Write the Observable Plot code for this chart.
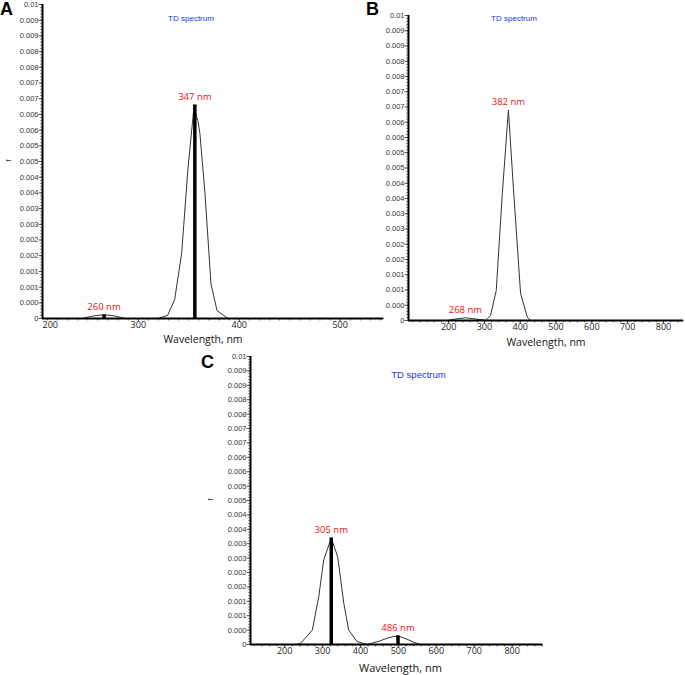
<!DOCTYPE html>
<html><head><meta charset="utf-8">
<script src="https://cdn.jsdelivr.net/npm/d3@7"></script>
<script src="https://cdn.jsdelivr.net/npm/@observablehq/plot@0.6"></script>
<style>
body{margin:0;background:#fff;}
#wrap{position:relative;width:685px;height:675px;overflow:hidden;background:#fff;}
.letter{position:absolute;font:bold 18px "Liberation Sans",Arial,sans-serif;line-height:18px;color:#000;}
</style></head><body><div id="wrap"></div>
<script>
// y axis ticks and their (truncated) labels, shared by the three panels
const yTicks = [0,0.0005,0.001,0.0015,0.002,0.0025,0.003,0.0035,0.004,0.0045,0.005,0.0055,0.006,0.0065,0.007,0.0075,0.008,0.0085,0.009,0.0095,0.01];
const yTickLabels = ["0","0.000","0.001","0.001","0.002","0.002","0.003","0.003","0.004","0.004","0.005","0.005","0.006","0.006","0.007","0.007","0.008","0.008","0.009","0.009","0.01"];

// Panel A
const aCurveNm = [205, 244, 255, 266, 277, 287, 319, 329, 336, 343, 349, 355, 359, 361, 366, 372, 378, 389, 543];
const aCurveF  = [0, 0, 0.00008, 0.00012, 0.00008, 0, 0, 0.0001, 0.0006, 0.0021, 0.0047, 0.0067, 0.0063, 0.0059, 0.0040, 0.0011, 0.00025, 0, 0];
const aPeakNm = [266, 356];
const aPeakF  = [0.00012, 0.0068];
const aPeakLabels = ["260 nm", "347 nm"];
const aXTicks = [200, 300, 400, 500];
const aXTickLabels = ["200", "300", "400", "500"];

// Panel B
const bCurveNm = [88, 196, 220, 247, 275, 303, 308, 317, 333, 350, 367, 382, 401, 420, 429, 855];
const bCurveF  = [0, 0, 0.00005, 0.00009, 0.00005, 0.00001, 0.00006, 0.00016, 0.00098, 0.00416, 0.0069, 0.00416, 0.00089, 0.0001, 0, 0];
const bPeakNm = [247, 367];
const bPeakF  = [0.00009, 0.0069];
const bPeakLabels = ["268 nm", "382 nm"];
const bXTicks = [200, 300, 400, 500, 600, 700, 800];
const bXTickLabels = ["200", "300", "400", "500", "600", "700", "800"];

// Panel C
const cCurveNm = [110, 230, 242, 273, 290, 303, 323, 340, 356, 369, 391, 418, 450, 475, 498, 520, 540, 558, 880];
const cCurveF  = [0, 0, 0.00004, 0.0005, 0.00166, 0.00293, 0.0037, 0.00304, 0.00143, 0.0005, 0.0001, 0, 0.00012, 0.00024, 0.0003, 0.0002, 0.00008, 0, 0];
const cPeakNm = [323, 499];
const cPeakF  = [0.0037, 0.0003];
const cPeakLabels = ["305 nm", "486 nm"];
const cXTicks = [200, 300, 400, 500, 600, 700, 800];
const cXTickLabels = ["200", "300", "400", "500", "600", "700", "800"];

const title = "TD spectrum";
const xLabel = "Wavelength, nm";
const yLabel = "f";

const wrap = document.getElementById("wrap");
const SANS = "Liberation Sans, Arial, sans-serif";
const OPEN = "Open Sans, Noto Sans, sans-serif";
const minorY = d3.range(0, 0.01 + 1e-9, 0.0001);

function panel(cfg) {
  const curve = cfg.curveNm.map((x, i) => ({x, f: cfg.curveF[i]}));
  const peaks = cfg.peakNm.map((x, i) => ({x, f: cfg.peakF[i], label: cfg.peakLabels[i]}));
  const yt = yTicks.map((v, i) => ({v, label: yTickLabels[i]}));
  const [x0, x1] = cfg.domain;
  const xt = cfg.xTicks.map((t, i) => ({t, label: cfg.xTickLabels[i]}));
  const inTicks = xt.filter(d => d.t >= x0 && d.t <= x1);
  const outTicks = xt.filter(d => d.t < x0);
  const minorX = d3.range(Math.ceil(x0 / cfg.minorStep) * cfg.minorStep, x1 + 1e-9, cfg.minorStep);
  const fw = cfg.width - cfg.ml - cfg.mr;
  const fh = cfg.height - cfg.mt - cfg.mb;
  const marks = [
    Plot.ruleY(minorY, {insetLeft: -2, insetRight: fw, stroke: "#444", strokeWidth: 0.6}),
    Plot.ruleY(yTicks, {insetLeft: -3.5, insetRight: fw, stroke: "#333", strokeWidth: 0.8}),
    Plot.text(yt, {y: "v", text: "label", frameAnchor: "left", textAnchor: "end", dx: -4, fontSize: 7.5, fontFamily: SANS, fill: "#333"}),
    Plot.ruleX(minorX, {insetTop: fh, insetBottom: -2.5, stroke: "#444", strokeWidth: 0.8}),
    Plot.ruleX(inTicks.map(d => d.t), {insetTop: fh, insetBottom: -3, stroke: "#333", strokeWidth: 0.8}),
    Plot.text(inTicks, {x: "t", text: "label", frameAnchor: "bottom", lineAnchor: "top", dy: 3, fontSize: 9, fontFamily: OPEN, fill: "#222"}),
    Plot.text(outTicks, {text: "label", frameAnchor: "bottom-left", textAnchor: "start", lineAnchor: "top", dy: 3, fontSize: 9, fontFamily: OPEN, fill: "#222"}),
    Plot.line(curve, {x: "x", y: "f", stroke: "#333", strokeWidth: 1}),
    Plot.ruleY([0], {stroke: "#000", strokeWidth: 2}),
    Plot.ruleX([x0], {stroke: "#000", strokeWidth: 2}),
    Plot.text([title], {frameAnchor: "top", dx: cfg.titleDx, dy: cfg.titleDy, fill: "#2233dd", fontSize: cfg.titleSize, fontFamily: SANS}),
    Plot.text([xLabel], {frameAnchor: "bottom", dx: cfg.xLabelDx, dy: cfg.xLabelDy, fill: "#111", fontSize: cfg.xLabelSize, fontFamily: OPEN}),
    Plot.text(peaks, {x: "x", y: "f", text: "label", lineAnchor: "bottom", dy: -5, fill: "#ee1111", fontSize: 9.5, fontFamily: OPEN})
  ];
  if (cfg.bars) marks.push(Plot.ruleX(peaks, {x: "x", y1: 0, y2: "f", stroke: "#000", strokeWidth: cfg.barWidth}));
  if (cfg.showF) marks.push(Plot.text([yLabel], {frameAnchor: "left", dx: cfg.fDx, rotate: -90, fontSize: 7, fontFamily: SANS, fill: "#333"}));
  const svg = Plot.plot({
    width: cfg.width, height: cfg.height,
    marginLeft: cfg.ml, marginRight: cfg.mr, marginTop: cfg.mt, marginBottom: cfg.mb,
    x: {domain: cfg.domain, axis: null},
    y: {domain: [0, 0.01], axis: null},
    style: {background: "transparent", overflow: "visible"},
    marks
  });
  svg.style.position = "absolute";
  svg.style.left = cfg.left + "px";
  svg.style.top = cfg.top + "px";
  svg.style.maxWidth = "none";
  wrap.appendChild(svg);
}

panel({curveNm: aCurveNm, curveF: aCurveF, peakNm: aPeakNm, peakF: aPeakF, peakLabels: aPeakLabels,
  xTicks: aXTicks, xTickLabels: aXTickLabels, domain: [205, 543], minorStep: 10,
  left: 0, top: -6, width: 390, height: 350, ml: 42, mr: 7, mt: 10, mb: 26,
  bars: true, barWidth: 3.5, showF: true, fDx: -34,
  titleDx: -22, titleDy: 11, titleSize: 8, xLabelDx: -10, xLabelDy: 24, xLabelSize: 10.5});

panel({curveNm: bCurveNm, curveF: bCurveF, peakNm: bPeakNm, peakF: bPeakF, peakLabels: bPeakLabels,
  xTicks: bXTicks, xTickLabels: bXTickLabels, domain: [88, 856], minorStep: 20,
  left: 360, top: 5, width: 325, height: 345, ml: 48, mr: 2, mt: 10, mb: 30,
  bars: false, showF: false,
  titleDx: -32, titleDy: 0, titleSize: 8, xLabelDx: 0, xLabelDy: 25, xLabelSize: 10.5});

panel({curveNm: cCurveNm, curveF: cCurveF, peakNm: cPeakNm, peakF: cPeakF, peakLabels: cPeakLabels,
  xTicks: cXTicks, xTickLabels: cXTickLabels, domain: [110, 880], minorStep: 20,
  left: 200, top: 346, width: 350, height: 329, ml: 50, mr: 8, mt: 10, mb: 31,
  bars: true, barWidth: 3.5, showF: true, fDx: -40,
  titleDx: 22, titleDy: 15, titleSize: 9.5, xLabelDx: 4, xLabelDy: 27, xLabelSize: 11});

[["A", 0, 0], ["B", 366, 0], ["C", 201, 353]].forEach(([t, l, tp]) => {
  const d = document.createElement("div");
  d.className = "letter"; d.textContent = t;
  d.style.left = l + "px"; d.style.top = tp + "px";
  wrap.appendChild(d);
});
</script></body></html>
